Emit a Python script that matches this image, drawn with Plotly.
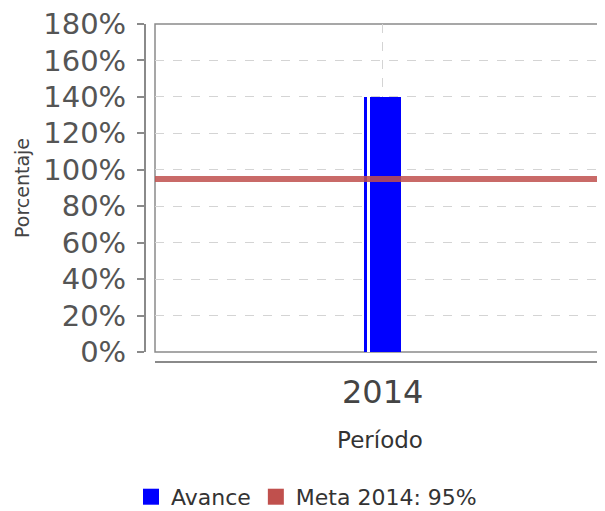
import plotly.graph_objects as go

periodos = [2014]
avance = [140]
meta_valor = 95
meta_nombre = 'Meta 2014: 95%'
y_ticks = [0, 20, 40, 60, 80, 100, 120, 140, 160, 180]

ejes_color = '#8a8a8a'
grid_color = '#d4d4d4'
azul = '#0000ff'
rojo = '#c0504d'

fig = go.Figure()

# barra principal
fig.add_trace(go.Bar(x=periodos, y=avance, name='Avance', showlegend=False,
                     marker=dict(color=azul, line=dict(width=0)),
                     width=0.083))
# linea blanca dentro de la barra
fig.add_trace(go.Bar(x=periodos, y=avance, showlegend=False, hoverinfo='skip',
                     marker=dict(color='white', line=dict(width=0)),
                     offset=-0.034, width=0.006))

# entradas de leyenda (cuadrados)
fig.add_trace(go.Scatter(x=periodos, y=[None], name='Avance', mode='markers',
                         marker=dict(symbol='square', size=16, color=azul)))
fig.add_trace(go.Scatter(x=periodos, y=[None], name=meta_nombre, mode='markers',
                         marker=dict(symbol='square', size=16, color=rojo)))

fig.add_shape(type='line', xref='x domain', yref='y', x0=0, x1=1,
              y0=meta_valor, y1=meta_valor,
              line=dict(color='rgba(192,80,77,0.85)', width=6), layer='above')

# marco del area de trazado
fig.add_shape(type='rect', xref='x domain', yref='y domain', x0=0, x1=1.01, y0=0, y1=1,
              line=dict(color=ejes_color, width=1.5), layer='below')

fig.update_layout(
    width=597, height=503,
    margin=dict(l=137, r=0, t=16, b=149, autoexpand=False),
    plot_bgcolor='white', paper_bgcolor='white',
    barmode='overlay', bargap=0,
    font=dict(family='DejaVu Sans', color='#444444'),
    showlegend=True,
    legend=dict(orientation='h', xref='container', yref='container',
                x=0.5, xanchor='center', y=0.028, yanchor='middle',
                font=dict(size=22, color='#333333'), itemwidth=30,
                traceorder='normal'),
    xaxis=dict(domain=[10 / 460, 1], anchor='free', position=0, automargin=False,
               range=[2013.494, 2014.494], tickvals=periodos, ticktext=[str(p) for p in periodos],
               tickfont=dict(size=32, color='#444444'), ticks='', ticklabelstandoff=2,
               showline=True, linecolor=ejes_color, linewidth=2,
               showgrid=True, gridcolor=grid_color, griddash='dash', gridwidth=1,
               zeroline=False,
               title=dict(text='Período', font=dict(size=23, color='#333333'), standoff=20)),
    yaxis=dict(domain=[10 / 338, 1], anchor='free', position=0, automargin=False,
               range=[0, 180], tickvals=y_ticks, ticktext=[f'{v}%' for v in y_ticks],
               tickfont=dict(size=29, color='#555555'), ticklabeloverflow='allow',
               ticks='outside', ticklen=7, tickcolor=ejes_color, tickwidth=2,
               ticklabelstandoff=5,
               showline=True, linecolor=ejes_color, linewidth=2,
               showgrid=True, gridcolor=grid_color, griddash='dash', gridwidth=1,
               zeroline=False,
               title=dict(text='Porcentaje', font=dict(size=19, color='#444444'), standoff=8)),
)

fig.write_html('out.html')
